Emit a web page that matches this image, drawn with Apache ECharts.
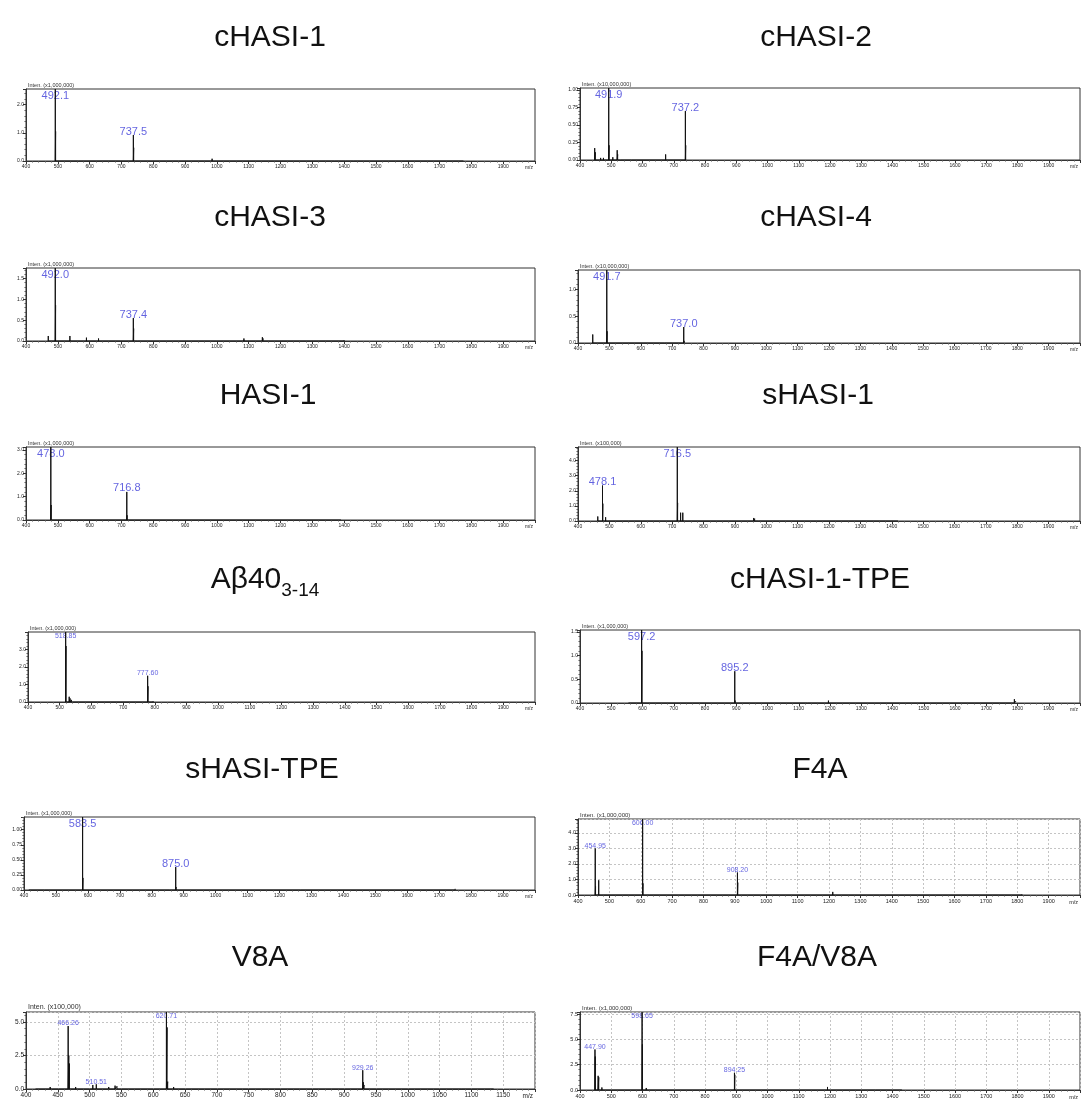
<!DOCTYPE html>
<html><head><meta charset="utf-8">
<script src="https://cdn.jsdelivr.net/npm/echarts/dist/echarts.min.js"></script>
<style>html,body{margin:0;padding:0;background:#fff}#c{width:1086px;height:1102px}</style>
</head><body><div id="c"></div><script>
// ---------------- DATA ----------------
const titles = ['cHASI-1','cHASI-2','cHASI-3','cHASI-4','HASI-1','sHASI-1','Aβ40','cHASI-1-TPE','sHASI-TPE','F4A','V8A','F4A/V8A'];
const titleSubs = ['','','','','','','3-14','','','','',''];
const multipliers = ['(x1,000,000)','(x10,000,000)','(x1,000,000)','(x10,000,000)','(x1,000,000)','(x100,000)','(x1,000,000)','(x1,000,000)','(x1,000,000)','(x1,000,000)','(x100,000)','(x1,000,000)'];
const xMin = [400,400,400,400,400,400,400,400,400,400,400,400];
const xMax = [2000,2000,2000,2000,2000,2000,2000,2000,2000,2000,1200,2000];
const xStep = [100,100,100,100,100,100,100,100,100,100,50,100];
const yMax = [2.55,1.03,1.75,1.37,3.12,4.9,4.0,1.54,1.21,4.9,5.75,7.7];
const yStep = [1,0.25,0.5,0.5,1,1,1,0.5,0.25,1,2.5,2.5];
const yDecimals = [1,2,1,1,1,1,1,1,2,1,1,1];

const peaks_cHASI1 = [[492.1,2.55],[493.1,1.05],[565,0.05],[737.5,0.92],[738.5,0.47],[745,0.03],[755,0.02],[880,0.04],[887,0.07],[985,0.08],[1370,0.03],[1405,0.03],[1430,0.06],[1775,0.02]];
const peaks_cHASI2 = [[447,0.17],[449,0.11],[466,0.03],[475,0.03],[491.9,1.03],[492.9,0.21],[505,0.04],[519,0.14],[520.5,0.08],[530,0.02],[565,0.01],[674,0.08],[737.2,0.70],[738.2,0.21]];
const peaks_cHASI3 = [[470,0.12],[492.0,1.75],[493.0,0.86],[538,0.12],[570,0.03],[590,0.08],[628,0.06],[737.4,0.55],[738.4,0.3],[750,0.04],[800,0.04],[1000,0.03],[1085,0.06],[1143,0.09],[1145,0.06],[1400,0.02]];
const peaks_cHASI4 = [[447,0.16],[449,0.03],[491.7,1.37],[492.7,0.22],[505,0.02],[675,0.02],[737.0,0.30],[738,0.04]];
const peaks_HASI1 = [[478.0,3.12],[479.0,0.64],[500,0.03],[716.8,1.2],[717.8,0.2],[1390,0.03]];
const peaks_sHASI1 = [[463,0.3],[478.1,2.35],[479.1,1.15],[488,0.25],[495,0.1],[560,0.03],[716.5,4.9],[717.5,1.2],[727,0.55],[734,0.55],[750,0.08],[960,0.2],[963,0.15],[975,0.08],[1420,0.02]];
const peaks_Abeta = [[518.85,4.0],[519.85,3.2],[530,0.3],[533,0.2],[537,0.12],[777.60,1.5],[778.6,0.9],[795,0.05]];
const peaks_cHASI1TPE = [[555,0.03],[597.2,1.54],[598.2,1.1],[615,0.02],[895.2,0.67],[896.2,0.05],[1128,0.03],[1195,0.05],[1790,0.08],[1795,0.04]];
const peaks_sHASITPE = [[415,0.03],[465,0.03],[478,0.02],[583.5,1.21],[584.5,0.2],[855,0.02],[875.0,0.38],[876,0.05],[1265,0.02],[1750,0.02]];
const peaks_F4A = [[454.95,3.0],[455.95,0.55],[466,0.95],[470,0.1],[480,0.05],[495,0.05],[606.00,4.9],[607,0.75],[620,0.1],[627,0.12],[908.20,1.45],[909.2,0.8],[1212,0.2],[1215,0.12],[1362,0.1],[1815,0.05]];
const peaks_V8A = [[415,0.1],[438,0.15],[442,0.1],[455,0.1],[466.26,4.7],[467.26,2.5],[468.26,1.9],[478,0.15],[490,0.1],[505,0.3],[510.51,0.35],[530,0.15],[540,0.25],[543,0.2],[560,0.05],[600,0.1],[612,0.1],[620.71,5.75],[621.71,4.6],[622.71,0.55],[632,0.15],[650,0.05],[680,0.1],[740,0.05],[790,0.1],[830,0.1],[850,0.1],[880,0.05],[925,0.1],[929.26,1.4],[930.26,0.5],[931.26,0.3],[950,0.05],[1000,0.05],[1040,0.05],[1085,0.05],[1135,0.03]];
const peaks_F4AV8A = [[447.90,4.0],[448.9,3.3],[458,1.4],[460,1.25],[470,0.25],[475,0.1],[598.65,7.7],[599.65,4.5],[612,0.2],[620,0.1],[894.25,1.7],[895.25,1.5],[1192,0.3],[1195,0.15],[1345,0.1],[1430,0.03]];

const peakLabels_cHASI1 = ['492.1','737.5'];
const peakLabels_cHASI2 = ['491.9','737.2'];
const peakLabels_cHASI3 = ['492.0','737.4'];
const peakLabels_cHASI4 = ['491.7','737.0'];
const peakLabels_HASI1 = ['478.0','716.8'];
const peakLabels_sHASI1 = ['478.1','716.5'];
const peakLabels_Abeta = ['518.85','777.60'];
const peakLabels_cHASI1TPE = ['597.2','895.2'];
const peakLabels_sHASITPE = ['583.5','875.0'];
const peakLabels_F4A = ['454.95','606.00','908.20'];
const peakLabels_V8A = ['466.26','510.51','620.71','929.26'];
const peakLabels_F4AV8A = ['447.90','598.65','894.25'];

const allPeaks = [peaks_cHASI1,peaks_cHASI2,peaks_cHASI3,peaks_cHASI4,peaks_HASI1,peaks_sHASI1,peaks_Abeta,peaks_cHASI1TPE,peaks_sHASITPE,peaks_F4A,peaks_V8A,peaks_F4AV8A];
const allLabels = [peakLabels_cHASI1,peakLabels_cHASI2,peakLabels_cHASI3,peakLabels_cHASI4,peakLabels_HASI1,peakLabels_sHASI1,peakLabels_Abeta,peakLabels_cHASI1TPE,peakLabels_sHASITPE,peakLabels_F4A,peakLabels_V8A,peakLabels_F4AV8A];

// ---------------- LAYOUT / STYLE ----------------
const gridBoxes = [
  [26,89,509,72],[580,88,500,72],
  [26,268,509,73],[578,270,502,73],
  [26,447,509,73],[578,447,502,74],
  [28,632,507,70],[580,630,500,73],
  [24,817,511,73],[578,819,502,76],
  [26,1012,509,77],[580,1012,500,78]
];
const titlePos = [[270,38],[816,38],[270,218],[816,218],[268,396],[818,396],[265,580],[820,580],[262,770],[820,770],[260,958],[817,958]];
const dashedGrid = [false,false,false,false,false,false,false,false,false,true,true,true];
const smallPeakText = [false,false,false,false,false,false,true,false,false,true,true,true];
const axisFont = [5,5,5,5,5,5,5,5,5,5.5,6.5,5.5];
const FONT = 'Liberation Sans, Arial, sans-serif';
const BLUE = '#3c3cd8';

const grids=[], xAxes=[], yAxes=[], series=[], graphics=[];
for (let i=0;i<12;i++){
  const [l,t,w,h] = gridBoxes[i];
  grids.push({left:l, top:t, width:w, height:h, show:true, borderColor:'#333', borderWidth:1, containLabel:false, outerBoundsMode:'none'});
  const fs = axisFont[i];
  const split = {show:dashedGrid[i], lineStyle:{type:[2,2], color:'#c4c4c4', width:1}};
  xAxes.push({
    gridIndex:i, type:'value', min:xMin[i], max:xMax[i], interval:xStep[i],
    name:'m/z', nameLocation:'end', nameGap:-2,
    nameTextStyle:{fontSize:fs, align:'right', verticalAlign:'top', padding:[4,0,0,0], color:'#222', fontFamily:FONT},
    axisLine:{show:true, onZero:false, lineStyle:{color:'#333', width:1}},
    axisTick:{show:true, length:3, lineStyle:{color:'#333', width:1}},
    minorTick:{show:true, splitNumber:5, length:1.5, lineStyle:{color:'#555', width:1}},
    axisLabel:{fontSize:fs, color:'#222', margin:3, showMaxLabel:false, fontFamily:FONT, formatter:v=>String(v)},
    splitLine:split, minorSplitLine:{show:false}
  });
  const dec = yDecimals[i];
  yAxes.push({
    gridIndex:i, type:'value', min:0, max:yMax[i], interval:yStep[i],
    name:'Inten. '+multipliers[i], nameLocation:'end', nameGap:1,
    nameTextStyle:{fontSize:fs+0.5, align:'left', color:'#333', fontFamily:FONT, padding:[0,0,0,2]},
    axisLine:{show:true, lineStyle:{color:'#333', width:1}},
    axisTick:{show:true, length:3, lineStyle:{color:'#333', width:1}},
    minorTick:{show:true, splitNumber:5, length:1.5, lineStyle:{color:'#555', width:1}},
    axisLabel:{fontSize:fs, color:'#222', margin:2, showMaxLabel:false, fontFamily:FONT, formatter:v=>v.toFixed(dec)},
    splitLine:split
  });
  // sticks
  const pk = allPeaks[i].slice().sort((a,b)=>a[0]-b[0]);
  const stick = [];
  pk.forEach(([x,y])=>{ stick.push([x,0],[x,y],[x,0]); });
  series.push({
    type:'line', xAxisIndex:i, yAxisIndex:i, data:stick, showSymbol:false, symbol:'none',
    lineStyle:{color:'#111', width:1}, silent:true, animation:false, clip:true
  });
  // labels
  const small = smallPeakText[i];
  const labData = allLabels[i].map(s=>{
    const x = parseFloat(s);
    const p = pk.find(q=>Math.abs(q[0]-x)<1e-6);
    const y = p ? p[1] : 0;
    const atTop = y >= yMax[i]*0.97;
    return {value:[x,y], label:{show:true, formatter:s, position:'top', distance:0,
      offset:[0, atTop ? (small?8:12) : (small?1:2)]}};
  });
  series.push({
    type:'scatter', xAxisIndex:i, yAxisIndex:i, data:labData, symbolSize:0, silent:true, animation:false, clip:false,
    label:{show:true, color:BLUE, fontSize: small?7:11, fontFamily:FONT}
  });
  // titles
  const [tx,ty] = titlePos[i];
  if (titleSubs[i]) {
    graphics.push({type:'text', x:tx, y:ty, style:{
      text:'{m|'+titles[i]+'}{s|'+titleSubs[i]+'}', align:'center', verticalAlign:'middle', fill:'#111',
      rich:{m:{fontSize:30, fontFamily:FONT, fill:'#111', verticalAlign:'middle'}, s:{fontSize:19, fontFamily:FONT, fill:'#111', padding:[22,0,0,0], verticalAlign:'middle'}}
    }});
  } else {
    graphics.push({type:'text', x:tx, y:ty, style:{text:titles[i], font:'30px '+FONT, fill:'#111', align:'center', verticalAlign:'middle'}});
  }
}

const chart = echarts.init(document.getElementById('c'), null, {renderer:'canvas'});
chart.setOption({
  backgroundColor:'#fff', animation:false,
  grid:grids, xAxis:xAxes, yAxis:yAxes, series:series, graphic:graphics
});
</script></body></html>
